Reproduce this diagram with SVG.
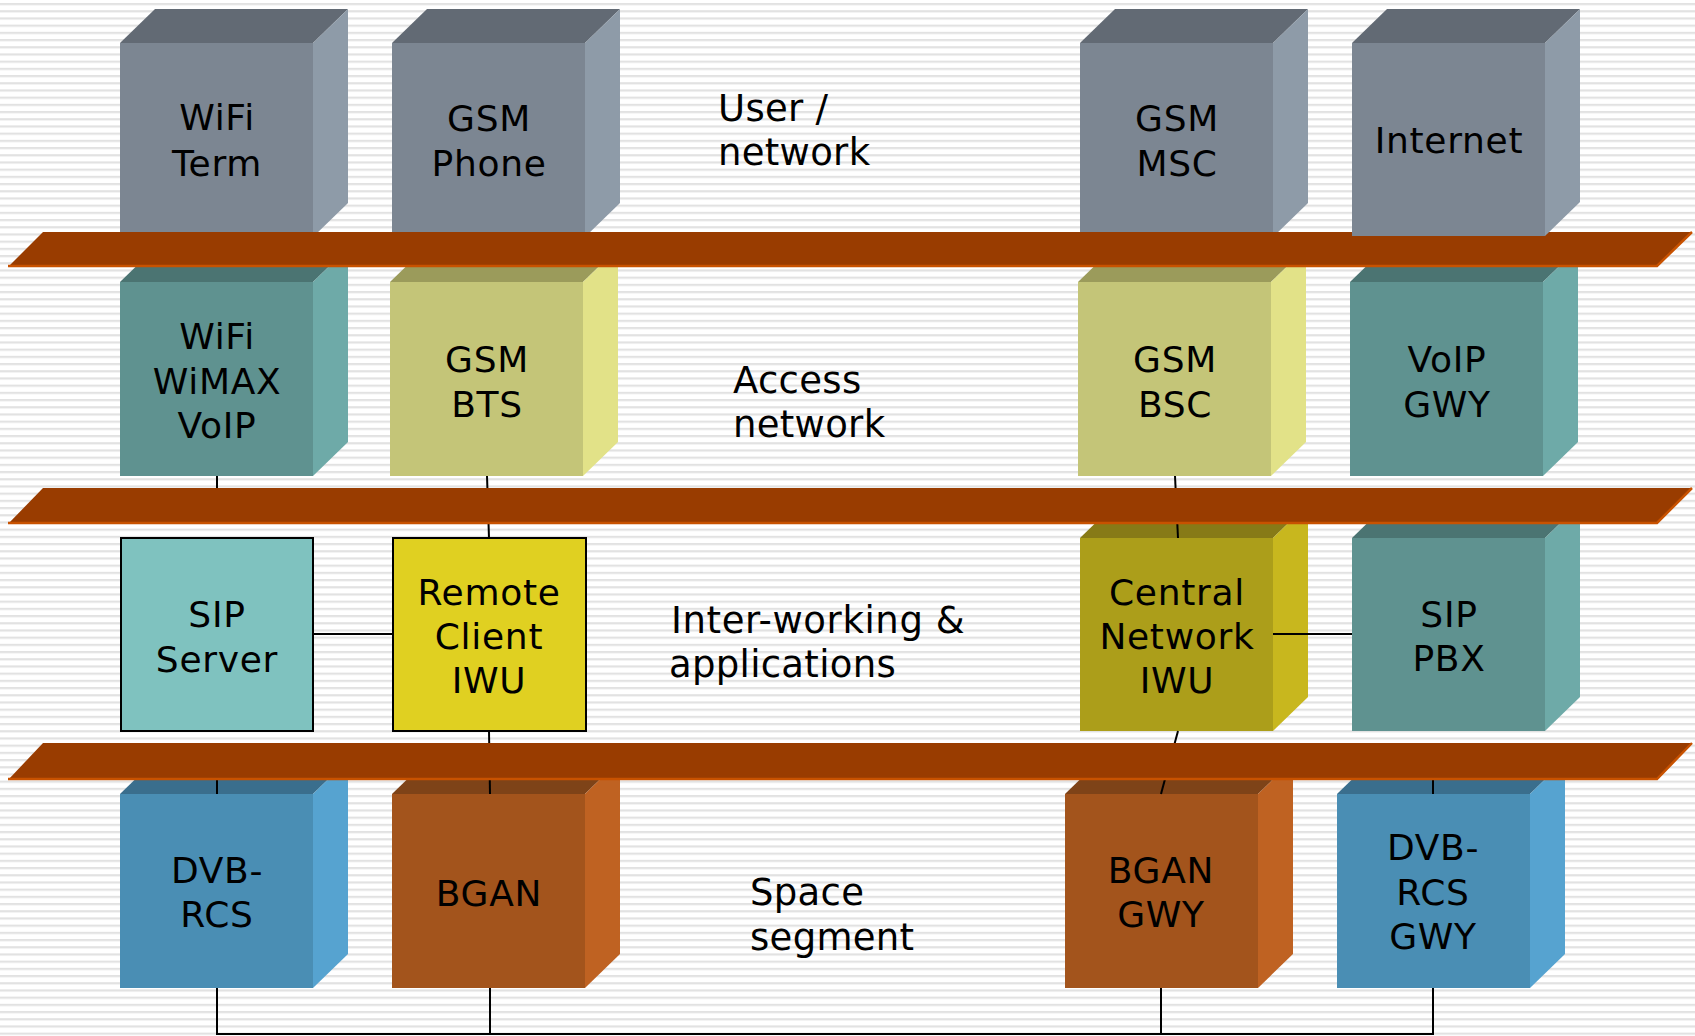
<svg xmlns="http://www.w3.org/2000/svg" width="1695" height="1036" viewBox="0 0 1695 1036">
<defs>
<pattern id="stripes" patternUnits="userSpaceOnUse" x="0" y="3" width="20" height="7.2">
<rect x="0" y="0" width="20" height="2.2" fill="#E2E2E2"/>
</pattern>
<style>
text{font-family:"DejaVu Sans","Verdana","Liberation Sans",sans-serif;fill:#000;text-anchor:middle;font-size:36px;letter-spacing:0.7px}
.side{text-anchor:start;font-size:37px;letter-spacing:0.3px}
.gray .f{fill:#7C8692}.gray .t{fill:#626A74}.gray .r{fill:#8E9BA8}
.teal .f{fill:#5F9290}.teal .t{fill:#4B7472}.teal .r{fill:#6EAAA8}
.khaki .f{fill:#C4C578}.khaki .t{fill:#9B9B5B}.khaki .r{fill:#E2E288}
.olive .f{fill:#AC9E1A}.olive .t{fill:#877A17}.olive .r{fill:#C8B71E}
.blue .f{fill:#4A8EB4}.blue .t{fill:#3A6E8D}.blue .r{fill:#56A3D0}
.brown .f{fill:#A3541C}.brown .t{fill:#7E4318}.brown .r{fill:#BF6222}
.flat{stroke:#000;stroke-width:2}
.conn line,.conn polyline{stroke:#000;stroke-width:2;fill:none}
.band{fill:#993C00}
.bandedge{fill:none;stroke:#C85200;stroke-width:2.5}
</style>
</defs>
<rect width="1695" height="1036" fill="#FFFFFF"/>
<rect width="1695" height="1036" fill="url(#stripes)"/>

<!-- Row 1 -->
<g id="wifi-term" class="gray">
<rect class="f" x="120" y="43" width="193" height="194"/>
<polygon class="t" points="120,43 155,9 348,9 313,43"/>
<polygon class="r" points="313,43 348,9 348,203 313,237"/>
<text x="217" y="130">WiFi</text><text x="217" y="176">Term</text>
</g>
<g id="gsm-phone" class="gray">
<rect class="f" x="392" y="43" width="193" height="194"/>
<polygon class="t" points="392,43 427,9 620,9 585,43"/>
<polygon class="r" points="585,43 620,9 620,203 585,237"/>
<text x="489" y="131">GSM</text><text x="489" y="176">Phone</text>
</g>
<g id="gsm-msc" class="gray">
<rect class="f" x="1080" y="43" width="193" height="194"/>
<polygon class="t" points="1080,43 1115,9 1308,9 1273,43"/>
<polygon class="r" points="1273,43 1308,9 1308,203 1273,237"/>
<text x="1177" y="131">GSM</text><text x="1177" y="176">MSC</text>
</g>

<!-- Row 2 -->
<g id="wifi-wimax-voip" class="teal">
<rect class="f" x="120" y="282" width="193" height="194"/>
<polygon class="t" points="120,282 155,248 348,248 313,282"/>
<polygon class="r" points="313,282 348,248 348,442 313,476"/>
<text x="217" y="349">WiFi</text><text x="217" y="394">WiMAX</text><text x="217" y="438">VoIP</text>
</g>
<g id="gsm-bts" class="khaki">
<rect class="f" x="390" y="282" width="193" height="194"/>
<polygon class="t" points="390,282 425,248 618,248 583,282"/>
<polygon class="r" points="583,282 618,248 618,442 583,476"/>
<text x="487" y="372">GSM</text><text x="487" y="417">BTS</text>
</g>
<g id="gsm-bsc" class="khaki">
<rect class="f" x="1078" y="282" width="193" height="194"/>
<polygon class="t" points="1078,282 1113,248 1306,248 1271,282"/>
<polygon class="r" points="1271,282 1306,248 1306,442 1271,476"/>
<text x="1175" y="372">GSM</text><text x="1175" y="417">BSC</text>
</g>
<g id="voip-gwy" class="teal">
<rect class="f" x="1350" y="282" width="193" height="194"/>
<polygon class="t" points="1350,282 1385,248 1578,248 1543,282"/>
<polygon class="r" points="1543,282 1578,248 1578,442 1543,476"/>
<text x="1447" y="372">VoIP</text><text x="1447" y="417">GWY</text>
</g>

<!-- Row 3 -->
<g id="sip-server">
<rect class="flat" x="121" y="538" width="192" height="193" fill="#7FC2BF"/>
<text x="217" y="627">SIP</text><text x="217" y="672">Server</text>
</g>
<g id="remote-client-iwu">
<rect class="flat" x="393" y="538" width="193" height="193" fill="#E0D021"/>
<text x="489" y="605">Remote</text><text x="489" y="649">Client</text><text x="489" y="693">IWU</text>
</g>
<g id="central-network-iwu" class="olive">
<rect class="f" x="1080" y="538" width="193" height="193"/>
<polygon class="t" points="1080,538 1115,504 1308,504 1273,538"/>
<polygon class="r" points="1273,538 1308,504 1308,697 1273,731"/>
<text x="1177" y="605">Central</text><text x="1177" y="649">Network</text><text x="1177" y="693">IWU</text>
</g>
<g id="sip-pbx" class="teal">
<rect class="f" x="1352" y="538" width="193" height="193"/>
<polygon class="t" points="1352,538 1387,504 1580,504 1545,538"/>
<polygon class="r" points="1545,538 1580,504 1580,697 1545,731"/>
<text x="1449" y="627">SIP</text><text x="1449" y="671">PBX</text>
</g>

<!-- Row 4 -->
<g id="dvb-rcs" class="blue">
<rect class="f" x="120" y="794" width="193" height="194"/>
<polygon class="t" points="120,794 155,760 348,760 313,794"/>
<polygon class="r" points="313,794 348,760 348,954 313,988"/>
<text x="217" y="883">DVB-</text><text x="217" y="927">RCS</text>
</g>
<g id="bgan" class="brown">
<rect class="f" x="392" y="794" width="193" height="194"/>
<polygon class="t" points="392,794 427,760 620,760 585,794"/>
<polygon class="r" points="585,794 620,760 620,954 585,988"/>
<text x="489" y="906">BGAN</text>
</g>
<g id="bgan-gwy" class="brown">
<rect class="f" x="1065" y="794" width="193" height="194"/>
<polygon class="t" points="1065,794 1100,760 1293,760 1258,794"/>
<polygon class="r" points="1258,794 1293,760 1293,954 1258,988"/>
<text x="1161" y="883">BGAN</text><text x="1161" y="927">GWY</text>
</g>
<g id="dvb-rcs-gwy" class="blue">
<rect class="f" x="1337" y="794" width="193" height="194"/>
<polygon class="t" points="1337,794 1372,760 1565,760 1530,794"/>
<polygon class="r" points="1530,794 1565,760 1565,954 1530,988"/>
<text x="1433" y="860">DVB-</text><text x="1433" y="905">RCS</text><text x="1433" y="949">GWY</text>
</g>

<!-- Connectors -->
<g id="connectors" class="conn">
<line x1="217" y1="476" x2="217" y2="495"/>
<line x1="487" y1="476" x2="489" y2="538"/>
<line x1="1175" y1="476" x2="1178" y2="538"/>
<line x1="313" y1="634" x2="393" y2="634"/>
<line x1="1273" y1="634" x2="1352" y2="634"/>
<line x1="489" y1="731" x2="490" y2="794"/>
<line x1="1178" y1="731" x2="1161" y2="794"/>
<line x1="217" y1="770" x2="217" y2="794"/>
<line x1="1433" y1="770" x2="1433" y2="794"/>
<polyline points="217,988 217,1034 1433,1034 1433,988"/>
<line x1="490" y1="988" x2="490" y2="1034"/>
<line x1="1161" y1="988" x2="1161" y2="1034"/>
</g>

<!-- Layer bands -->
<g id="bands">
<polygon class="band" points="43,232 1692,232 1657,267 8,267"/>
<polyline class="bandedge" points="1692,232 1657,266 8,266"/>
<polygon class="band" points="43,488 1692,488 1657,524 8,524"/>
<polyline class="bandedge" points="1692,488 1657,523 8,523"/>
<polygon class="band" points="43,743 1692,743 1657,780 8,780"/>
<polyline class="bandedge" points="1692,743 1657,779 8,779"/>
</g>

<g id="internet" class="gray">
<rect class="f" x="1352" y="43" width="193" height="193"/>
<polygon class="t" points="1352,43 1387,9 1580,9 1545,43"/>
<polygon class="r" points="1545,43 1580,9 1580,202 1545,236"/>
<text x="1449" y="153">Internet</text>
</g>

<!-- Layer labels -->
<g id="layer-labels">
<text class="side" x="718" y="121">User /</text>
<text class="side" x="718" y="165">network</text>
<text class="side" x="733" y="393">Access</text>
<text class="side" x="733" y="437">network</text>
<text class="side" x="671" y="633" textLength="294" lengthAdjust="spacing">Inter-working &amp;</text>
<text class="side" x="669" y="677">applications</text>
<text class="side" x="750" y="905">Space</text>
<text class="side" x="750" y="950">segment</text>
</g>
</svg>
